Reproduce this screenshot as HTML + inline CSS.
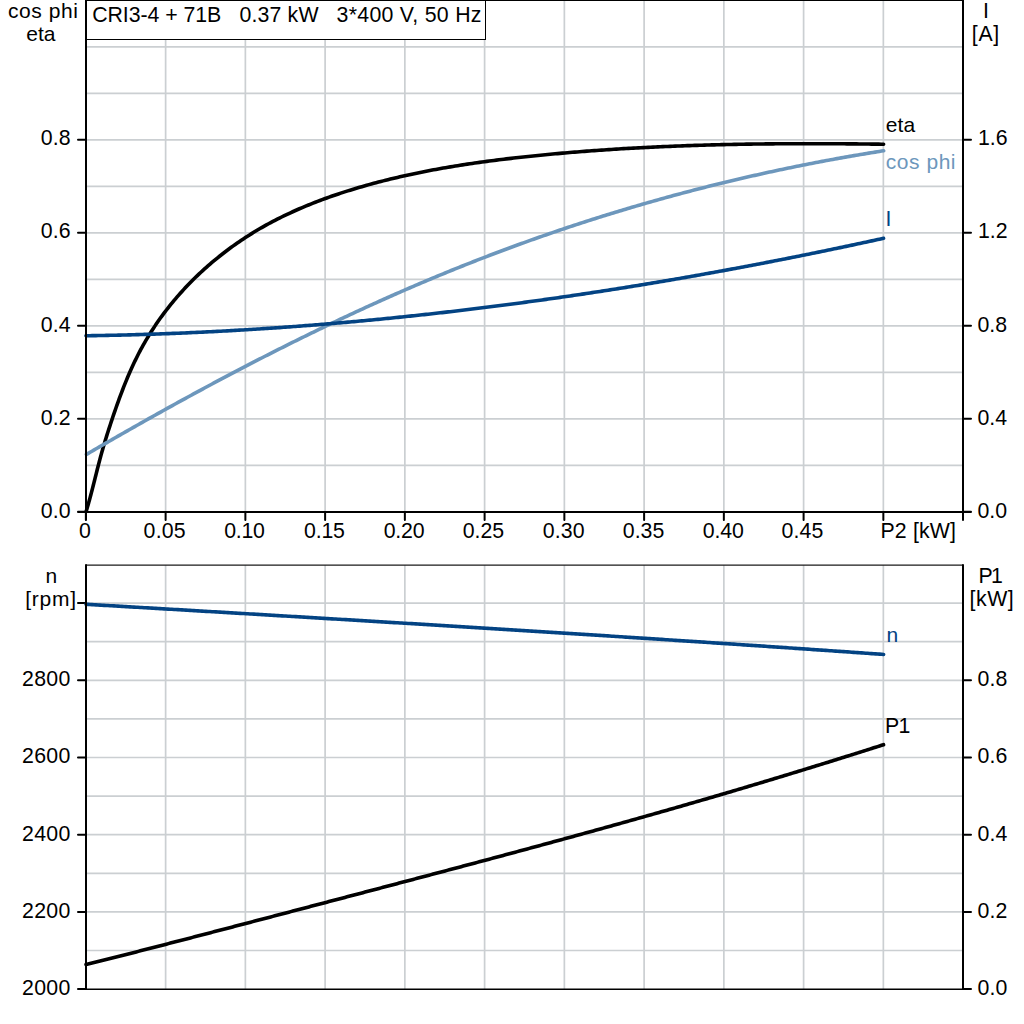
<!DOCTYPE html><html><head><meta charset="utf-8"><style>html,body{margin:0;padding:0;background:#fff;}svg{display:block}</style></head><body>
<svg width="1024" height="1024" viewBox="0 0 1024 1024" font-family="&quot;Liberation Sans&quot;, sans-serif" font-size="21.3">
<rect width="1024" height="1024" fill="#fff"/>
<path d="M165.62,39.5 V511.80 M245.37,39.5 V511.80 M325.11,39.5 V511.80 M404.86,39.5 V511.80 M484.61,39.5 V511.80 M564.36,0 V511.80 M644.11,0 V511.80 M723.85,0 V511.80 M803.60,0 V511.80 M883.35,0 V511.80 M86,465.30 H963 M86,418.80 H963 M86,372.30 H963 M86,325.80 H963 M86,279.30 H963 M86,232.80 H963 M86,186.30 H963 M86,139.80 H963 M86,93.30 H963 M86,46.80 H963 M165.62,565 V989.1 M245.37,565 V989.1 M325.11,565 V989.1 M404.86,565 V989.1 M484.61,565 V989.1 M564.36,565 V989.1 M644.11,565 V989.1 M723.85,565 V989.1 M803.60,565 V989.1 M883.35,565 V989.1 M86,950.50 H963 M86,911.90 H963 M86,873.30 H963 M86,834.70 H963 M86,796.10 H963 M86,757.50 H963 M86,718.90 H963 M86,680.30 H963 M86,641.70 H963 M86,603.10 H963" stroke="#cbcfd2" stroke-width="1.7" fill="none"/>
<path d="M86,0.5 H963" stroke="#000" stroke-width="1" fill="none"/>
<path d="M86,0 V520 M963,0 V520 M78,512 H971 M78,511.80 H86 M963,511.80 H971 M78,418.80 H86 M963,418.80 H971 M78,325.80 H86 M963,325.80 H971 M78,232.80 H86 M963,232.80 H971 M78,139.80 H86 M963,139.80 H971 M85.87,512 V520 M165.62,512 V520 M245.37,512 V520 M325.11,512 V520 M404.86,512 V520 M484.61,512 V520 M564.36,512 V520 M644.11,512 V520 M723.85,512 V520 M803.60,512 V520 M883.35,512 V520" stroke="#000" stroke-width="2" stroke-linecap="round" fill="none"/>
<path d="M86,565.05 H963" stroke="#1a1a1a" stroke-width="1.2" fill="none"/>
<path d="M86,565 V989.1 M963,565 V989.1 M78,989.10 H86 M963,989.10 H971 M78,911.90 H86 M963,911.90 H971 M78,834.70 H86 M963,834.70 H971 M78,757.50 H86 M963,757.50 H971 M78,680.30 H86 M963,680.30 H971 M78,603.10 H86" stroke="#000" stroke-width="2" stroke-linecap="round" fill="none"/>
<path d="M78.5,989.27 H970.5" stroke="#000" stroke-width="1.45" stroke-linecap="round" fill="none"/>
<rect x="85.5" y="0.5" width="400" height="39" fill="#fff" stroke="#000" stroke-width="1"/>
<path d="M86.12,511.55 L86.83,509.19 L87.52,506.83 L88.20,504.46 L88.87,502.09 L89.52,499.72 L90.16,497.35 L90.79,494.97 L91.42,492.60 L92.03,490.22 L92.64,487.84 L93.25,485.46 L93.85,483.08 L94.45,480.70 L95.04,478.33 L95.64,475.95 L96.24,473.57 L96.83,471.20 L97.44,468.82 L98.04,466.45 L98.65,464.08 L99.27,461.71 L99.89,459.35 L100.52,456.99 L101.17,454.63 L101.82,452.28 L102.49,449.93 L103.16,447.58 L103.85,445.24 L104.54,442.90 L105.25,440.56 L105.97,438.23 L106.69,435.90 L107.42,433.56 L108.16,431.24 L108.91,428.91 L109.67,426.58 L110.43,424.25 L111.20,421.93 L111.97,419.60 L112.75,417.28 L113.54,414.95 L114.33,412.63 L115.13,410.30 L115.94,407.98 L116.76,405.66 L117.58,403.34 L118.41,401.02 L119.26,398.71 L120.11,396.40 L120.97,394.09 L121.84,391.79 L122.72,389.49 L123.62,387.19 L124.52,384.90 L125.44,382.62 L126.37,380.34 L127.32,378.06 L128.27,375.80 L129.25,373.54 L130.23,371.28 L131.23,369.04 L132.25,366.80 L133.28,364.57 L134.32,362.34 L135.39,360.13 L136.47,357.93 L137.56,355.73 L138.68,353.55 L139.81,351.37 L140.96,349.21 L142.13,347.05 L143.32,344.91 L144.53,342.78 L145.75,340.66 L147.00,338.55 L148.26,336.45 L149.54,334.36 L150.84,332.29 L152.15,330.22 L153.49,328.17 L154.84,326.13 L156.20,324.10 L157.59,322.08 L158.99,320.08 L160.41,318.08 L161.85,316.10 L163.30,314.13 L164.77,312.17 L166.25,310.22 L167.75,308.29 L169.27,306.37 L170.80,304.46 L172.35,302.56 L173.91,300.67 L175.49,298.80 L177.09,296.94 L178.70,295.09 L180.32,293.26 L181.96,291.43 L183.61,289.63 L185.28,287.83 L186.96,286.05 L188.66,284.28 L190.37,282.52 L192.10,280.77 L193.83,279.04 L195.59,277.33 L197.35,275.62 L199.13,273.93 L200.92,272.25 L202.72,270.59 L204.54,268.94 L206.37,267.30 L208.21,265.68 L210.07,264.07 L211.94,262.48 L213.82,260.90 L215.71,259.33 L217.61,257.78 L219.52,256.24 L221.45,254.72 L223.39,253.21 L225.33,251.71 L227.29,250.23 L229.26,248.76 L231.25,247.31 L233.24,245.88 L235.24,244.45 L237.25,243.05 L239.27,241.65 L241.31,240.28 L243.35,238.91 L245.40,237.57 L247.46,236.23 L249.53,234.92 L251.62,233.61 L253.70,232.33 L255.80,231.06 L257.91,229.80 L260.03,228.56 L262.15,227.34 L264.28,226.13 L266.42,224.93 L268.57,223.75 L270.73,222.59 L272.90,221.44 L275.07,220.31 L277.25,219.19 L279.44,218.08 L281.63,216.99 L283.83,215.92 L286.04,214.85 L288.26,213.81 L290.48,212.77 L292.71,211.75 L294.94,210.74 L297.18,209.75 L299.43,208.76 L301.68,207.80 L303.94,206.84 L306.21,205.90 L308.48,204.97 L310.75,204.05 L313.03,203.14 L315.32,202.25 L317.61,201.36 L319.91,200.49 L322.21,199.63 L324.51,198.78 L326.82,197.95 L329.14,197.12 L331.45,196.31 L333.77,195.50 L336.10,194.71 L338.43,193.93 L340.76,193.16 L343.10,192.39 L345.44,191.64 L347.78,190.90 L350.12,190.17 L352.47,189.45 L354.82,188.73 L357.18,188.03 L359.53,187.33 L361.89,186.65 L364.25,185.97 L366.61,185.30 L368.98,184.64 L371.34,183.99 L373.71,183.35 L376.08,182.72 L378.45,182.09 L380.83,181.48 L383.20,180.87 L385.58,180.27 L387.96,179.68 L390.34,179.09 L392.72,178.52 L395.11,177.95 L397.49,177.39 L399.88,176.83 L402.27,176.29 L404.66,175.75 L407.06,175.22 L409.45,174.70 L411.85,174.18 L414.25,173.67 L416.65,173.17 L419.05,172.68 L421.45,172.19 L423.85,171.71 L426.26,171.24 L428.67,170.77 L431.07,170.31 L433.48,169.85 L435.90,169.41 L438.31,168.97 L440.72,168.53 L443.14,168.10 L445.55,167.68 L447.97,167.27 L450.39,166.86 L452.81,166.45 L455.23,166.06 L457.65,165.66 L460.07,165.28 L462.50,164.90 L464.92,164.52 L467.35,164.15 L469.77,163.79 L472.20,163.43 L474.63,163.07 L477.06,162.73 L479.49,162.38 L481.92,162.04 L484.35,161.71 L486.79,161.38 L489.22,161.06 L491.65,160.74 L494.09,160.42 L496.52,160.11 L498.96,159.81 L501.40,159.51 L503.83,159.21 L506.27,158.91 L508.71,158.63 L511.15,158.34 L513.59,158.06 L516.03,157.78 L518.47,157.51 L520.91,157.24 L523.35,156.98 L525.79,156.71 L528.24,156.45 L530.68,156.20 L533.12,155.95 L535.56,155.70 L538.01,155.45 L540.45,155.21 L542.89,154.97 L545.34,154.74 L547.78,154.50 L550.23,154.27 L552.67,154.04 L555.12,153.82 L557.56,153.60 L560.00,153.38 L562.45,153.16 L564.89,152.95 L567.34,152.74 L569.79,152.54 L572.23,152.33 L574.68,152.13 L577.12,151.93 L579.57,151.74 L582.02,151.54 L584.46,151.35 L586.91,151.17 L589.36,150.98 L591.80,150.80 L594.25,150.62 L596.70,150.44 L599.15,150.27 L601.59,150.10 L604.04,149.93 L606.49,149.76 L608.94,149.60 L611.38,149.44 L613.83,149.28 L616.28,149.13 L618.73,148.97 L621.18,148.82 L623.63,148.67 L626.08,148.53 L628.53,148.39 L630.97,148.25 L633.42,148.11 L635.87,147.97 L638.32,147.84 L640.77,147.71 L643.22,147.58 L645.67,147.46 L648.12,147.33 L650.57,147.21 L653.02,147.09 L655.47,146.98 L657.92,146.86 L660.38,146.75 L662.83,146.64 L665.28,146.53 L667.73,146.43 L670.18,146.33 L672.63,146.23 L675.08,146.13 L677.53,146.03 L679.98,145.94 L682.44,145.85 L684.89,145.76 L687.34,145.67 L689.79,145.58 L692.24,145.50 L694.69,145.42 L697.15,145.34 L699.60,145.26 L702.05,145.19 L704.50,145.11 L706.96,145.04 L709.41,144.98 L711.86,144.91 L714.31,144.84 L716.77,144.78 L719.22,144.72 L721.67,144.66 L724.12,144.60 L726.58,144.55 L729.03,144.49 L731.48,144.44 L733.94,144.39 L736.39,144.34 L738.84,144.30 L741.29,144.25 L743.75,144.21 L746.20,144.17 L748.65,144.13 L751.11,144.09 L753.56,144.06 L756.01,144.02 L758.47,143.99 L760.92,143.96 L763.38,143.93 L765.83,143.91 L768.28,143.88 L770.74,143.86 L773.19,143.83 L775.64,143.81 L778.10,143.79 L780.55,143.78 L783.00,143.76 L785.46,143.74 L787.91,143.73 L790.37,143.72 L792.82,143.71 L795.27,143.70 L797.73,143.69 L800.18,143.69 L802.64,143.68 L805.09,143.68 L807.54,143.68 L810.00,143.68 L812.45,143.68 L814.90,143.68 L817.36,143.69 L819.81,143.69 L822.27,143.70 L824.72,143.71 L827.17,143.71 L829.63,143.73 L832.08,143.74 L834.54,143.75 L836.99,143.76 L839.44,143.78 L841.90,143.79 L844.35,143.81 L846.80,143.83 L849.26,143.85 L851.71,143.87 L854.17,143.89 L856.62,143.92 L859.07,143.94 L861.53,143.96 L863.98,143.99 L866.43,144.02 L868.89,144.05 L871.34,144.08 L873.79,144.11 L876.25,144.14 L878.70,144.17 L881.15,144.20 L883.61,144.24" stroke="#000" stroke-width="3.6" fill="none" stroke-linecap="round" stroke-linejoin="round"/>
<path d="M86.39,454.43 L88.25,453.35 L90.10,452.27 L91.96,451.19 L93.82,450.11 L95.67,449.04 L97.53,447.96 L99.39,446.88 L101.25,445.81 L103.11,444.73 L104.97,443.66 L106.83,442.58 L108.69,441.51 L110.55,440.44 L112.42,439.37 L114.28,438.30 L116.15,437.23 L118.01,436.16 L119.88,435.09 L121.74,434.02 L123.61,432.96 L125.48,431.89 L127.34,430.83 L129.21,429.76 L131.08,428.70 L132.95,427.64 L134.82,426.58 L136.69,425.52 L138.56,424.46 L140.44,423.40 L142.31,422.35 L144.18,421.29 L146.06,420.23 L147.93,419.18 L149.81,418.13 L151.68,417.08 L153.56,416.02 L155.44,414.97 L157.32,413.92 L159.20,412.88 L161.08,411.83 L162.96,410.78 L164.84,409.74 L166.72,408.69 L168.60,407.65 L170.48,406.61 L172.37,405.57 L174.25,404.53 L176.13,403.49 L178.02,402.45 L179.91,401.42 L181.79,400.38 L183.68,399.35 L185.57,398.31 L187.46,397.28 L189.35,396.25 L191.24,395.22 L193.13,394.19 L195.02,393.16 L196.91,392.14 L198.80,391.11 L200.70,390.09 L202.59,389.07 L204.49,388.04 L206.38,387.02 L208.28,386.00 L210.17,384.99 L212.07,383.97 L213.97,382.95 L215.87,381.94 L217.77,380.93 L219.67,379.91 L221.57,378.90 L223.47,377.89 L225.37,376.89 L227.28,375.88 L229.18,374.87 L231.08,373.87 L232.99,372.87 L234.90,371.86 L236.80,370.86 L238.71,369.87 L240.62,368.87 L242.53,367.87 L244.44,366.88 L246.35,365.88 L248.26,364.89 L250.17,363.90 L252.08,362.91 L253.99,361.92 L255.91,360.93 L257.82,359.95 L259.74,358.97 L261.65,357.98 L263.57,357.00 L265.49,356.02 L267.41,355.04 L269.32,354.07 L271.24,353.09 L273.16,352.12 L275.09,351.14 L277.01,350.17 L278.93,349.20 L280.85,348.24 L282.78,347.27 L284.70,346.30 L286.63,345.34 L288.55,344.38 L290.48,343.42 L292.41,342.46 L294.34,341.50 L296.27,340.55 L298.20,339.59 L300.13,338.64 L302.06,337.69 L303.99,336.74 L305.92,335.79 L307.86,334.84 L309.79,333.90 L311.73,332.95 L313.66,332.01 L315.60,331.07 L317.54,330.13 L319.48,329.20 L321.41,328.26 L323.35,327.33 L325.29,326.40 L327.24,325.47 L329.18,324.54 L331.12,323.61 L333.06,322.69 L335.01,321.76 L336.95,320.84 L338.90,319.92 L340.85,319.00 L342.79,318.09 L344.74,317.17 L346.69,316.26 L348.64,315.35 L350.59,314.44 L352.54,313.53 L354.50,312.62 L356.45,311.72 L358.40,310.81 L360.36,309.91 L362.31,309.01 L364.27,308.12 L366.23,307.22 L368.19,306.33 L370.14,305.44 L372.10,304.55 L374.06,303.66 L376.02,302.77 L377.99,301.89 L379.95,301.00 L381.91,300.12 L383.88,299.25 L385.84,298.37 L387.81,297.49 L389.78,296.62 L391.74,295.75 L393.71,294.88 L395.68,294.01 L397.65,293.15 L399.62,292.28 L401.59,291.42 L403.57,290.56 L405.54,289.70 L407.51,288.85 L409.49,287.99 L411.46,287.14 L413.44,286.29 L415.42,285.45 L417.40,284.60 L419.38,283.76 L421.36,282.91 L423.34,282.07 L425.32,281.24 L427.30,280.40 L429.28,279.57 L431.27,278.74 L433.25,277.91 L435.24,277.08 L437.23,276.25 L439.21,275.43 L441.20,274.61 L443.19,273.79 L445.18,272.97 L447.17,272.16 L449.16,271.35 L451.16,270.53 L453.15,269.73 L455.15,268.92 L457.14,268.12 L459.14,267.31 L461.13,266.51 L463.13,265.72 L465.13,264.92 L467.13,264.13 L469.13,263.34 L471.13,262.55 L473.13,261.76 L475.14,260.98 L477.14,260.19 L479.15,259.41 L481.15,258.64 L483.16,257.86 L485.17,257.09 L487.17,256.32 L489.18,255.55 L491.19,254.78 L493.20,254.02 L495.22,253.25 L497.23,252.49 L499.24,251.74 L501.26,250.98 L503.27,250.23 L505.29,249.48 L507.31,248.73 L509.32,247.98 L511.34,247.24 L513.36,246.50 L515.38,245.76 L517.40,245.02 L519.43,244.28 L521.45,243.55 L523.47,242.82 L525.50,242.09 L527.52,241.37 L529.55,240.64 L531.57,239.92 L533.60,239.20 L535.63,238.48 L537.66,237.77 L539.69,237.06 L541.72,236.35 L543.75,235.64 L545.79,234.93 L547.82,234.23 L549.85,233.53 L551.89,232.83 L553.92,232.13 L555.96,231.44 L558.00,230.75 L560.04,230.06 L562.07,229.37 L564.11,228.68 L566.15,228.00 L568.20,227.32 L570.24,226.64 L572.28,225.96 L574.32,225.29 L576.37,224.62 L578.41,223.95 L580.46,223.28 L582.50,222.62 L584.55,221.95 L586.60,221.29 L588.65,220.63 L590.70,219.98 L592.75,219.32 L594.80,218.67 L596.85,218.02 L598.90,217.38 L600.96,216.73 L603.01,216.09 L605.06,215.45 L607.12,214.81 L609.18,214.18 L611.23,213.54 L613.29,212.91 L615.35,212.28 L617.41,211.66 L619.47,211.03 L621.53,210.41 L623.59,209.79 L625.65,209.17 L627.71,208.56 L629.77,207.95 L631.84,207.34 L633.90,206.73 L635.97,206.12 L638.03,205.52 L640.10,204.92 L642.16,204.32 L644.23,203.72 L646.30,203.13 L648.37,202.53 L650.44,201.94 L652.51,201.36 L654.58,200.77 L656.65,200.19 L658.72,199.61 L660.80,199.03 L662.87,198.45 L664.95,197.88 L667.02,197.31 L669.10,196.74 L671.17,196.17 L673.25,195.60 L675.33,195.04 L677.40,194.48 L679.48,193.92 L681.56,193.37 L683.64,192.82 L685.72,192.26 L687.80,191.72 L689.89,191.17 L691.97,190.62 L694.05,190.08 L696.13,189.54 L698.22,189.01 L700.30,188.47 L702.39,187.94 L704.48,187.41 L706.56,186.88 L708.65,186.35 L710.74,185.83 L712.82,185.31 L714.91,184.79 L717.00,184.27 L719.09,183.76 L721.18,183.25 L723.28,182.74 L725.37,182.23 L727.46,181.72 L729.55,181.22 L731.65,180.72 L733.74,180.22 L735.83,179.73 L737.93,179.23 L740.02,178.74 L742.12,178.25 L744.22,177.77 L746.32,177.28 L748.41,176.80 L750.51,176.32 L752.61,175.84 L754.71,175.37 L756.81,174.89 L758.91,174.42 L761.01,173.95 L763.11,173.49 L765.21,173.02 L767.32,172.56 L769.42,172.10 L771.52,171.65 L773.63,171.19 L775.73,170.74 L777.84,170.29 L779.94,169.84 L782.05,169.40 L784.16,168.96 L786.26,168.52 L788.37,168.08 L790.48,167.64 L792.59,167.21 L794.70,166.78 L796.81,166.35 L798.92,165.92 L801.03,165.50 L803.14,165.07 L805.25,164.65 L807.36,164.24 L809.47,163.82 L811.59,163.41 L813.70,163.00 L815.81,162.59 L817.93,162.19 L820.04,161.78 L822.16,161.38 L824.27,160.98 L826.39,160.59 L828.50,160.19 L830.62,159.80 L832.74,159.41 L834.86,159.02 L836.97,158.64 L839.09,158.26 L841.21,157.87 L843.33,157.50 L845.45,157.12 L847.57,156.75 L849.69,156.38 L851.81,156.01 L853.93,155.64 L856.06,155.28 L858.18,154.92 L860.30,154.56 L862.42,154.20 L864.55,153.85 L866.67,153.49 L868.80,153.14 L870.92,152.80 L873.04,152.45 L875.17,152.11 L877.30,151.77 L879.42,151.43 L881.55,151.09 L883.68,150.76" stroke="#6d97bc" stroke-width="3.6" fill="none" stroke-linecap="round" stroke-linejoin="round"/>
<path d="M85.97,335.74 L87.99,335.71 L90.01,335.68 L92.03,335.65 L94.04,335.62 L96.06,335.58 L98.08,335.55 L100.10,335.51 L102.12,335.48 L104.14,335.44 L106.15,335.40 L108.17,335.36 L110.19,335.32 L112.21,335.27 L114.23,335.23 L116.25,335.18 L118.26,335.14 L120.28,335.09 L122.30,335.04 L124.32,334.99 L126.33,334.94 L128.35,334.89 L130.37,334.83 L132.39,334.78 L134.40,334.72 L136.42,334.66 L138.44,334.60 L140.46,334.54 L142.47,334.48 L144.49,334.42 L146.51,334.36 L148.52,334.29 L150.54,334.23 L152.56,334.16 L154.58,334.09 L156.59,334.02 L158.61,333.95 L160.63,333.88 L162.64,333.81 L164.66,333.73 L166.68,333.66 L168.69,333.58 L170.71,333.50 L172.72,333.42 L174.74,333.34 L176.76,333.26 L178.77,333.18 L180.79,333.10 L182.81,333.01 L184.82,332.93 L186.84,332.84 L188.85,332.75 L190.87,332.66 L192.88,332.57 L194.90,332.48 L196.92,332.39 L198.93,332.29 L200.95,332.20 L202.96,332.10 L204.98,332.00 L206.99,331.90 L209.01,331.80 L211.02,331.70 L213.04,331.60 L215.05,331.50 L217.07,331.39 L219.08,331.29 L221.10,331.18 L223.11,331.07 L225.12,330.96 L227.14,330.85 L229.15,330.74 L231.17,330.63 L233.18,330.51 L235.20,330.40 L237.21,330.28 L239.22,330.17 L241.24,330.05 L243.25,329.93 L245.26,329.81 L247.28,329.68 L249.29,329.56 L251.31,329.44 L253.32,329.31 L255.33,329.19 L257.35,329.06 L259.36,328.93 L261.37,328.80 L263.38,328.67 L265.40,328.54 L267.41,328.40 L269.42,328.27 L271.44,328.13 L273.45,328.00 L275.46,327.86 L277.47,327.72 L279.49,327.58 L281.50,327.44 L283.51,327.30 L285.52,327.15 L287.53,327.01 L289.55,326.86 L291.56,326.72 L293.57,326.57 L295.58,326.42 L297.59,326.27 L299.60,326.12 L301.61,325.97 L303.63,325.81 L305.64,325.66 L307.65,325.50 L309.66,325.35 L311.67,325.19 L313.68,325.03 L315.69,324.87 L317.70,324.71 L319.71,324.55 L321.72,324.38 L323.73,324.22 L325.74,324.05 L327.75,323.89 L329.76,323.72 L331.77,323.55 L333.78,323.38 L335.79,323.21 L337.80,323.04 L339.81,322.86 L341.82,322.69 L343.83,322.51 L345.84,322.34 L347.85,322.16 L349.86,321.98 L351.87,321.80 L353.88,321.62 L355.89,321.44 L357.90,321.25 L359.90,321.07 L361.91,320.88 L363.92,320.70 L365.93,320.51 L367.94,320.32 L369.95,320.13 L371.95,319.94 L373.96,319.75 L375.97,319.56 L377.98,319.36 L379.98,319.17 L381.99,318.97 L384.00,318.78 L386.01,318.58 L388.01,318.38 L390.02,318.18 L392.03,317.98 L394.03,317.77 L396.04,317.57 L398.05,317.37 L400.05,317.16 L402.06,316.95 L404.07,316.75 L406.07,316.54 L408.08,316.33 L410.09,316.12 L412.09,315.91 L414.10,315.69 L416.10,315.48 L418.11,315.26 L420.11,315.05 L422.12,314.83 L424.12,314.61 L426.13,314.39 L428.13,314.17 L430.14,313.95 L432.14,313.73 L434.15,313.51 L436.15,313.28 L438.16,313.06 L440.16,312.83 L442.17,312.60 L444.17,312.37 L446.17,312.14 L448.18,311.91 L450.18,311.68 L452.19,311.45 L454.19,311.21 L456.19,310.98 L458.20,310.74 L460.20,310.51 L462.20,310.27 L464.20,310.03 L466.21,309.79 L468.21,309.55 L470.21,309.31 L472.21,309.06 L474.22,308.82 L476.22,308.57 L478.22,308.33 L480.22,308.08 L482.23,307.83 L484.23,307.58 L486.23,307.33 L488.23,307.08 L490.23,306.83 L492.23,306.58 L494.23,306.32 L496.23,306.07 L498.24,305.81 L500.24,305.55 L502.24,305.29 L504.24,305.03 L506.24,304.77 L508.24,304.51 L510.24,304.25 L512.24,303.99 L514.24,303.72 L516.24,303.46 L518.24,303.19 L520.24,302.92 L522.24,302.66 L524.23,302.39 L526.23,302.12 L528.23,301.84 L530.23,301.57 L532.23,301.30 L534.23,301.02 L536.23,300.75 L538.22,300.47 L540.22,300.20 L542.22,299.92 L544.22,299.64 L546.22,299.36 L548.21,299.08 L550.21,298.79 L552.21,298.51 L554.21,298.23 L556.20,297.94 L558.20,297.66 L560.20,297.37 L562.19,297.08 L564.19,296.79 L566.19,296.50 L568.18,296.21 L570.18,295.92 L572.17,295.63 L574.17,295.33 L576.17,295.04 L578.16,294.74 L580.16,294.44 L582.15,294.15 L584.15,293.85 L586.14,293.55 L588.14,293.25 L590.13,292.95 L592.13,292.64 L594.12,292.34 L596.11,292.04 L598.11,291.73 L600.10,291.42 L602.10,291.12 L604.09,290.81 L606.08,290.50 L608.08,290.19 L610.07,289.88 L612.06,289.57 L614.06,289.25 L616.05,288.94 L618.04,288.62 L620.03,288.31 L622.03,287.99 L624.02,287.67 L626.01,287.35 L628.00,287.03 L629.99,286.71 L631.99,286.39 L633.98,286.07 L635.97,285.75 L637.96,285.42 L639.95,285.10 L641.94,284.77 L643.93,284.44 L645.92,284.12 L647.91,283.79 L649.90,283.46 L651.89,283.13 L653.88,282.79 L655.87,282.46 L657.86,282.13 L659.85,281.79 L661.84,281.46 L663.83,281.12 L665.82,280.78 L667.81,280.45 L669.80,280.11 L671.78,279.77 L673.77,279.43 L675.76,279.08 L677.75,278.74 L679.74,278.40 L681.72,278.05 L683.71,277.71 L685.70,277.36 L687.69,277.01 L689.67,276.66 L691.66,276.32 L693.65,275.97 L695.63,275.61 L697.62,275.26 L699.61,274.91 L701.59,274.56 L703.58,274.20 L705.56,273.85 L707.55,273.49 L709.54,273.13 L711.52,272.77 L713.51,272.41 L715.49,272.05 L717.48,271.69 L719.46,271.33 L721.44,270.97 L723.43,270.61 L725.41,270.24 L727.40,269.88 L729.38,269.51 L731.36,269.14 L733.35,268.77 L735.33,268.41 L737.31,268.04 L739.30,267.67 L741.28,267.29 L743.26,266.92 L745.24,266.55 L747.23,266.17 L749.21,265.80 L751.19,265.42 L753.17,265.05 L755.15,264.67 L757.14,264.29 L759.12,263.91 L761.10,263.53 L763.08,263.15 L765.06,262.77 L767.04,262.38 L769.02,262.00 L771.00,261.62 L772.98,261.23 L774.96,260.84 L776.94,260.46 L778.92,260.07 L780.90,259.68 L782.88,259.29 L784.86,258.90 L786.83,258.51 L788.81,258.12 L790.79,257.72 L792.77,257.33 L794.75,256.93 L796.73,256.54 L798.70,256.14 L800.68,255.74 L802.66,255.35 L804.63,254.95 L806.61,254.55 L808.59,254.15 L810.56,253.74 L812.54,253.34 L814.52,252.94 L816.49,252.53 L818.47,252.13 L820.44,251.72 L822.42,251.32 L824.40,250.91 L826.37,250.50 L828.34,250.09 L830.32,249.68 L832.29,249.27 L834.27,248.86 L836.24,248.45 L838.22,248.03 L840.19,247.62 L842.16,247.20 L844.14,246.79 L846.11,246.37 L848.08,245.95 L850.06,245.54 L852.03,245.12 L854.00,244.70 L855.97,244.28 L857.94,243.85 L859.92,243.43 L861.89,243.01 L863.86,242.58 L865.83,242.16 L867.80,241.73 L869.77,241.31 L871.74,240.88 L873.71,240.45 L875.68,240.02 L877.65,239.59 L879.62,239.16 L881.59,238.73 L883.56,238.30" stroke="#034383" stroke-width="3.6" fill="none" stroke-linecap="round" stroke-linejoin="round"/>
<path d="M86.00,604.28 L88.00,604.40 L90.00,604.51 L92.00,604.63 L94.00,604.75 L96.00,604.86 L98.00,604.98 L100.00,605.10 L101.99,605.21 L103.99,605.33 L105.99,605.45 L107.99,605.57 L109.99,605.68 L111.99,605.80 L113.99,605.92 L115.99,606.03 L117.99,606.15 L119.99,606.27 L121.99,606.39 L123.99,606.50 L125.99,606.62 L127.99,606.74 L129.99,606.85 L131.99,606.97 L133.99,607.09 L135.99,607.21 L137.99,607.32 L139.99,607.44 L141.99,607.56 L143.99,607.68 L145.98,607.79 L147.98,607.91 L149.98,608.03 L151.98,608.15 L153.98,608.26 L155.98,608.38 L157.98,608.50 L159.98,608.62 L161.98,608.73 L163.98,608.85 L165.98,608.97 L167.98,609.09 L169.98,609.20 L171.98,609.32 L173.98,609.44 L175.98,609.56 L177.98,609.67 L179.98,609.79 L181.98,609.91 L183.98,610.03 L185.97,610.15 L187.97,610.26 L189.97,610.38 L191.97,610.50 L193.97,610.62 L195.97,610.74 L197.97,610.85 L199.97,610.97 L201.97,611.09 L203.97,611.21 L205.97,611.33 L207.97,611.44 L209.97,611.56 L211.97,611.68 L213.97,611.80 L215.97,611.92 L217.97,612.03 L219.97,612.15 L221.97,612.27 L223.96,612.39 L225.96,612.51 L227.96,612.63 L229.96,612.74 L231.96,612.86 L233.96,612.98 L235.96,613.10 L237.96,613.22 L239.96,613.34 L241.96,613.46 L243.96,613.57 L245.96,613.69 L247.96,613.81 L249.96,613.93 L251.96,614.05 L253.96,614.17 L255.96,614.29 L257.96,614.41 L259.95,614.52 L261.95,614.64 L263.95,614.76 L265.95,614.88 L267.95,615.00 L269.95,615.12 L271.95,615.24 L273.95,615.36 L275.95,615.48 L277.95,615.60 L279.95,615.72 L281.95,615.83 L283.95,615.95 L285.95,616.07 L287.95,616.19 L289.95,616.31 L291.95,616.43 L293.94,616.55 L295.94,616.67 L297.94,616.79 L299.94,616.91 L301.94,617.03 L303.94,617.15 L305.94,617.27 L307.94,617.39 L309.94,617.51 L311.94,617.63 L313.94,617.75 L315.94,617.87 L317.94,617.99 L319.94,618.11 L321.94,618.23 L323.94,618.35 L325.93,618.47 L327.93,618.59 L329.93,618.71 L331.93,618.83 L333.93,618.95 L335.93,619.07 L337.93,619.19 L339.93,619.31 L341.93,619.43 L343.93,619.55 L345.93,619.67 L347.93,619.79 L349.93,619.91 L351.93,620.03 L353.93,620.15 L355.92,620.27 L357.92,620.39 L359.92,620.52 L361.92,620.64 L363.92,620.76 L365.92,620.88 L367.92,621.00 L369.92,621.12 L371.92,621.24 L373.92,621.36 L375.92,621.48 L377.92,621.61 L379.92,621.73 L381.92,621.85 L383.91,621.97 L385.91,622.09 L387.91,622.21 L389.91,622.33 L391.91,622.46 L393.91,622.58 L395.91,622.70 L397.91,622.82 L399.91,622.94 L401.91,623.06 L403.91,623.19 L405.91,623.31 L407.91,623.43 L409.90,623.55 L411.90,623.67 L413.90,623.80 L415.90,623.92 L417.90,624.04 L419.90,624.16 L421.90,624.28 L423.90,624.41 L425.90,624.53 L427.90,624.65 L429.90,624.77 L431.90,624.90 L433.90,625.02 L435.89,625.14 L437.89,625.27 L439.89,625.39 L441.89,625.51 L443.89,625.63 L445.89,625.76 L447.89,625.88 L449.89,626.00 L451.89,626.13 L453.89,626.25 L455.89,626.37 L457.89,626.50 L459.88,626.62 L461.88,626.74 L463.88,626.87 L465.88,626.99 L467.88,627.11 L469.88,627.24 L471.88,627.36 L473.88,627.48 L475.88,627.61 L477.88,627.73 L479.88,627.86 L481.87,627.98 L483.87,628.10 L485.87,628.23 L487.87,628.35 L489.87,628.48 L491.87,628.60 L493.87,628.73 L495.87,628.85 L497.87,628.97 L499.87,629.10 L501.87,629.22 L503.86,629.35 L505.86,629.47 L507.86,629.60 L509.86,629.72 L511.86,629.85 L513.86,629.97 L515.86,630.10 L517.86,630.22 L519.86,630.35 L521.86,630.47 L523.85,630.60 L525.85,630.72 L527.85,630.85 L529.85,630.97 L531.85,631.10 L533.85,631.23 L535.85,631.35 L537.85,631.48 L539.85,631.60 L541.85,631.73 L543.84,631.86 L545.84,631.98 L547.84,632.11 L549.84,632.23 L551.84,632.36 L553.84,632.49 L555.84,632.61 L557.84,632.74 L559.84,632.87 L561.84,632.99 L563.83,633.12 L565.83,633.25 L567.83,633.37 L569.83,633.50 L571.83,633.63 L573.83,633.75 L575.83,633.88 L577.83,634.01 L579.83,634.13 L581.82,634.26 L583.82,634.39 L585.82,634.52 L587.82,634.64 L589.82,634.77 L591.82,634.90 L593.82,635.03 L595.82,635.15 L597.82,635.28 L599.81,635.41 L601.81,635.54 L603.81,635.67 L605.81,635.79 L607.81,635.92 L609.81,636.05 L611.81,636.18 L613.81,636.31 L615.81,636.44 L617.80,636.57 L619.80,636.69 L621.80,636.82 L623.80,636.95 L625.80,637.08 L627.80,637.21 L629.80,637.34 L631.80,637.47 L633.79,637.60 L635.79,637.73 L637.79,637.86 L639.79,637.99 L641.79,638.11 L643.79,638.24 L645.79,638.37 L647.79,638.50 L649.78,638.63 L651.78,638.76 L653.78,638.89 L655.78,639.02 L657.78,639.15 L659.78,639.28 L661.78,639.41 L663.78,639.55 L665.77,639.68 L667.77,639.81 L669.77,639.94 L671.77,640.07 L673.77,640.20 L675.77,640.33 L677.77,640.46 L679.76,640.59 L681.76,640.72 L683.76,640.85 L685.76,640.99 L687.76,641.12 L689.76,641.25 L691.76,641.38 L693.76,641.51 L695.75,641.64 L697.75,641.77 L699.75,641.91 L701.75,642.04 L703.75,642.17 L705.75,642.30 L707.75,642.44 L709.74,642.57 L711.74,642.70 L713.74,642.83 L715.74,642.97 L717.74,643.10 L719.74,643.23 L721.74,643.36 L723.73,643.50 L725.73,643.63 L727.73,643.76 L729.73,643.90 L731.73,644.03 L733.73,644.16 L735.73,644.30 L737.72,644.43 L739.72,644.56 L741.72,644.70 L743.72,644.83 L745.72,644.97 L747.72,645.10 L749.71,645.23 L751.71,645.37 L753.71,645.50 L755.71,645.64 L757.71,645.77 L759.71,645.91 L761.71,646.04 L763.70,646.17 L765.70,646.31 L767.70,646.44 L769.70,646.58 L771.70,646.72 L773.70,646.85 L775.69,646.99 L777.69,647.12 L779.69,647.26 L781.69,647.39 L783.69,647.53 L785.69,647.66 L787.68,647.80 L789.68,647.94 L791.68,648.07 L793.68,648.21 L795.68,648.34 L797.68,648.48 L799.67,648.62 L801.67,648.75 L803.67,648.89 L805.67,649.03 L807.67,649.16 L809.67,649.30 L811.66,649.44 L813.66,649.58 L815.66,649.71 L817.66,649.85 L819.66,649.99 L821.66,650.13 L823.65,650.26 L825.65,650.40 L827.65,650.54 L829.65,650.68 L831.65,650.82 L833.64,650.95 L835.64,651.09 L837.64,651.23 L839.64,651.37 L841.64,651.51 L843.64,651.65 L845.63,651.78 L847.63,651.92 L849.63,652.06 L851.63,652.20 L853.63,652.34 L855.62,652.48 L857.62,652.62 L859.62,652.76 L861.62,652.90 L863.62,653.04 L865.62,653.18 L867.61,653.32 L869.61,653.46 L871.61,653.60 L873.61,653.74 L875.61,653.88 L877.60,654.02 L879.60,654.16 L881.60,654.30 L883.60,654.44" stroke="#034383" stroke-width="3.6" fill="none" stroke-linecap="round" stroke-linejoin="round"/>
<path d="M86.02,964.59 L88.03,964.09 L90.05,963.58 L92.06,963.08 L94.07,962.58 L96.08,962.07 L98.09,961.57 L100.11,961.06 L102.12,960.56 L104.13,960.05 L106.14,959.55 L108.15,959.04 L110.16,958.53 L112.17,958.02 L114.18,957.51 L116.19,957.01 L118.20,956.50 L120.21,955.99 L122.22,955.48 L124.23,954.96 L126.24,954.45 L128.25,953.94 L130.26,953.43 L132.27,952.92 L134.28,952.40 L136.29,951.89 L138.30,951.37 L140.31,950.86 L142.31,950.35 L144.32,949.83 L146.33,949.32 L148.34,948.80 L150.35,948.28 L152.36,947.77 L154.37,947.25 L156.37,946.73 L158.38,946.21 L160.39,945.70 L162.40,945.18 L164.40,944.66 L166.41,944.14 L168.42,943.62 L170.43,943.10 L172.44,942.58 L174.44,942.06 L176.45,941.54 L178.46,941.02 L180.46,940.50 L182.47,939.98 L184.48,939.46 L186.49,938.94 L188.49,938.41 L190.50,937.89 L192.51,937.37 L194.51,936.85 L196.52,936.32 L198.53,935.80 L200.53,935.28 L202.54,934.75 L204.55,934.23 L206.55,933.71 L208.56,933.18 L210.57,932.66 L212.57,932.13 L214.58,931.61 L216.58,931.09 L218.59,930.56 L220.60,930.04 L222.60,929.51 L224.61,928.99 L226.62,928.46 L228.62,927.94 L230.63,927.41 L232.63,926.89 L234.64,926.36 L236.65,925.83 L238.65,925.31 L240.66,924.78 L242.66,924.26 L244.67,923.73 L246.68,923.21 L248.68,922.68 L250.69,922.15 L252.69,921.63 L254.70,921.10 L256.70,920.58 L258.71,920.05 L260.72,919.53 L262.72,919.00 L264.73,918.47 L266.73,917.95 L268.74,917.42 L270.75,916.89 L272.75,916.37 L274.76,915.84 L276.76,915.32 L278.77,914.79 L280.77,914.26 L282.78,913.74 L284.79,913.21 L286.79,912.68 L288.80,912.16 L290.80,911.63 L292.81,911.10 L294.81,910.58 L296.82,910.05 L298.83,909.52 L300.83,909.00 L302.84,908.47 L304.84,907.94 L306.85,907.41 L308.85,906.89 L310.86,906.36 L312.86,905.83 L314.87,905.31 L316.88,904.78 L318.88,904.25 L320.89,903.72 L322.89,903.20 L324.90,902.67 L326.90,902.14 L328.91,901.61 L330.91,901.09 L332.92,900.56 L334.92,900.03 L336.93,899.50 L338.94,898.98 L340.94,898.45 L342.95,897.92 L344.95,897.39 L346.96,896.86 L348.96,896.34 L350.97,895.81 L352.97,895.28 L354.98,894.75 L356.98,894.22 L358.99,893.69 L360.99,893.16 L363.00,892.64 L365.00,892.11 L367.01,891.58 L369.01,891.05 L371.02,890.52 L373.02,889.99 L375.03,889.46 L377.03,888.93 L379.04,888.41 L381.04,887.88 L383.05,887.35 L385.05,886.82 L387.06,886.29 L389.06,885.76 L391.07,885.23 L393.07,884.70 L395.08,884.17 L397.08,883.64 L399.09,883.11 L401.09,882.58 L403.10,882.05 L405.10,881.52 L407.11,880.99 L409.11,880.46 L411.12,879.93 L413.12,879.40 L415.13,878.87 L417.13,878.34 L419.13,877.81 L421.14,877.28 L423.14,876.75 L425.15,876.22 L427.15,875.69 L429.16,875.16 L431.16,874.62 L433.17,874.09 L435.17,873.56 L437.18,873.03 L439.18,872.50 L441.18,871.97 L443.19,871.43 L445.19,870.90 L447.20,870.37 L449.20,869.84 L451.20,869.31 L453.21,868.77 L455.21,868.24 L457.22,867.71 L459.22,867.17 L461.22,866.64 L463.23,866.11 L465.23,865.57 L467.24,865.04 L469.24,864.51 L471.24,863.97 L473.25,863.44 L475.25,862.90 L477.25,862.37 L479.26,861.83 L481.26,861.30 L483.26,860.76 L485.27,860.23 L487.27,859.69 L489.27,859.15 L491.28,858.62 L493.28,858.08 L495.28,857.54 L497.29,857.01 L499.29,856.47 L501.29,855.93 L503.29,855.39 L505.30,854.86 L507.30,854.32 L509.30,853.78 L511.30,853.24 L513.31,852.70 L515.31,852.16 L517.31,851.62 L519.31,851.08 L521.32,850.54 L523.32,850.00 L525.32,849.46 L527.32,848.92 L529.32,848.38 L531.32,847.84 L533.33,847.30 L535.33,846.75 L537.33,846.21 L539.33,845.67 L541.33,845.13 L543.33,844.58 L545.33,844.04 L547.34,843.50 L549.34,842.95 L551.34,842.41 L553.34,841.86 L555.34,841.32 L557.34,840.77 L559.34,840.22 L561.34,839.68 L563.34,839.13 L565.34,838.58 L567.34,838.04 L569.34,837.49 L571.34,836.94 L573.34,836.39 L575.34,835.84 L577.34,835.29 L579.34,834.75 L581.34,834.20 L583.34,833.64 L585.34,833.09 L587.34,832.54 L589.34,831.99 L591.33,831.44 L593.33,830.89 L595.33,830.33 L597.33,829.78 L599.33,829.23 L601.33,828.67 L603.33,828.12 L605.32,827.57 L607.32,827.01 L609.32,826.45 L611.32,825.90 L613.32,825.34 L615.31,824.79 L617.31,824.23 L619.31,823.67 L621.30,823.11 L623.30,822.55 L625.30,822.00 L627.30,821.44 L629.29,820.88 L631.29,820.32 L633.28,819.75 L635.28,819.19 L637.28,818.63 L639.27,818.07 L641.27,817.51 L643.26,816.94 L645.26,816.38 L647.26,815.82 L649.25,815.25 L651.25,814.69 L653.24,814.12 L655.24,813.55 L657.23,812.99 L659.23,812.42 L661.22,811.85 L663.21,811.29 L665.21,810.72 L667.20,810.15 L669.20,809.58 L671.19,809.01 L673.18,808.44 L675.18,807.87 L677.17,807.30 L679.16,806.72 L681.16,806.15 L683.15,805.58 L685.14,805.00 L687.13,804.43 L689.13,803.85 L691.12,803.28 L693.11,802.70 L695.10,802.13 L697.09,801.55 L699.09,800.97 L701.08,800.39 L703.07,799.81 L705.06,799.23 L707.05,798.65 L709.04,798.07 L711.03,797.49 L713.02,796.91 L715.01,796.33 L717.00,795.75 L718.99,795.16 L720.98,794.58 L722.97,793.99 L724.96,793.41 L726.95,792.82 L728.94,792.24 L730.93,791.65 L732.92,791.06 L734.90,790.47 L736.89,789.88 L738.88,789.29 L740.87,788.70 L742.86,788.11 L744.84,787.52 L746.83,786.93 L748.82,786.34 L750.80,785.75 L752.79,785.15 L754.78,784.56 L756.76,783.96 L758.75,783.37 L760.74,782.77 L762.72,782.17 L764.71,781.58 L766.69,780.98 L768.68,780.38 L770.67,779.78 L772.65,779.18 L774.64,778.58 L776.62,777.98 L778.60,777.38 L780.59,776.78 L782.57,776.18 L784.56,775.57 L786.54,774.97 L788.52,774.36 L790.51,773.76 L792.49,773.15 L794.47,772.55 L796.46,771.94 L798.44,771.33 L800.42,770.73 L802.41,770.12 L804.39,769.51 L806.37,768.90 L808.35,768.29 L810.33,767.68 L812.32,767.07 L814.30,766.46 L816.28,765.84 L818.26,765.23 L820.24,764.62 L822.22,764.00 L824.20,763.39 L826.18,762.77 L828.16,762.16 L830.14,761.54 L832.12,760.93 L834.10,760.31 L836.08,759.69 L838.06,759.07 L840.04,758.45 L842.02,757.83 L844.00,757.21 L845.98,756.59 L847.95,755.97 L849.93,755.35 L851.91,754.73 L853.89,754.10 L855.87,753.48 L857.84,752.86 L859.82,752.23 L861.80,751.61 L863.78,750.98 L865.75,750.35 L867.73,749.73 L869.71,749.10 L871.68,748.47 L873.66,747.84 L875.64,747.22 L877.61,746.59 L879.59,745.96 L881.56,745.32 L883.54,744.69" stroke="#000" stroke-width="3.6" fill="none" stroke-linecap="round" stroke-linejoin="round"/>
<path d="M86,0 V520 M86,565 V989.1" stroke="#000" stroke-width="2" fill="none"/>
<text x="7.90" y="18.00" style="letter-spacing:0.583px;font-size:21px" xml:space="preserve">cos phi</text>
<text x="26.20" y="41.00" style="letter-spacing:0.050px;font-size:21px" xml:space="preserve">eta</text>
<text x="92.20" y="21.60" style="letter-spacing:-0.045px" xml:space="preserve">CRI3-4 + 71B</text>
<text x="239.50" y="21.60" style="letter-spacing:0.150px" xml:space="preserve">0.37 kW</text>
<text x="336.60" y="21.60" style="letter-spacing:0.277px" xml:space="preserve">3*400 V, 50 Hz</text>
<text x="983.00" y="17.80" xml:space="preserve">I</text>
<text x="971.75" y="41.00" style="letter-spacing:0.725px" xml:space="preserve">[A]</text>
<text x="40.80" y="518.00" style="letter-spacing:0.100px" xml:space="preserve">0.0</text>
<text x="40.80" y="425.00" style="letter-spacing:0.100px" xml:space="preserve">0.2</text>
<text x="40.80" y="332.00" style="letter-spacing:0.100px" xml:space="preserve">0.4</text>
<text x="40.80" y="238.00" style="letter-spacing:0.100px" xml:space="preserve">0.6</text>
<text x="40.80" y="145.00" style="letter-spacing:0.100px" xml:space="preserve">0.8</text>
<text x="977.50" y="518.00" xml:space="preserve">0.0</text>
<text x="977.50" y="425.00" xml:space="preserve">0.4</text>
<text x="977.50" y="332.00" xml:space="preserve">0.8</text>
<text x="978.00" y="238.00" style="letter-spacing:-0.050px" xml:space="preserve">1.2</text>
<text x="978.00" y="145.00" style="letter-spacing:-0.050px" xml:space="preserve">1.6</text>
<text x="79.00" y="538.00" xml:space="preserve">0</text>
<text x="143.60" y="538.00" style="letter-spacing:0.200px" xml:space="preserve">0.05</text>
<text x="224.30" y="538.00" style="letter-spacing:-0.267px" xml:space="preserve">0.10</text>
<text x="304.00" y="538.00" style="letter-spacing:-0.167px" xml:space="preserve">0.15</text>
<text x="383.70" y="538.00" style="letter-spacing:-0.167px" xml:space="preserve">0.20</text>
<text x="462.80" y="538.00" style="letter-spacing:-0.067px" xml:space="preserve">0.25</text>
<text x="542.80" y="538.00" style="letter-spacing:0.133px" xml:space="preserve">0.30</text>
<text x="622.80" y="538.00" style="letter-spacing:0.033px" xml:space="preserve">0.35</text>
<text x="702.70" y="538.00" style="letter-spacing:-0.133px" xml:space="preserve">0.40</text>
<text x="781.60" y="538.00" style="letter-spacing:0.133px" xml:space="preserve">0.45</text>
<text x="880.40" y="537.60" style="letter-spacing:0.183px" xml:space="preserve">P2 [kW]</text>
<text x="885.80" y="132.00" style="letter-spacing:0.100px;font-size:21px" xml:space="preserve">eta</text>
<text x="885.80" y="168.90" fill="#6d97bc" style="letter-spacing:0.533px;font-size:21px" xml:space="preserve">cos phi</text>
<text x="885.50" y="225.90" fill="#034383" xml:space="preserve">I</text>
<text x="45.40" y="583.00" style="font-size:21px" xml:space="preserve">n</text>
<text x="25.30" y="605.90" style="letter-spacing:0.725px;font-size:21px" xml:space="preserve">[rpm]</text>
<text x="978.60" y="583.00" style="letter-spacing:-1.700px" xml:space="preserve">P1</text>
<text x="969.60" y="605.50" style="letter-spacing:0.533px" xml:space="preserve">[kW]</text>
<text x="22.00" y="995.00" style="letter-spacing:0.333px" xml:space="preserve">2000</text>
<text x="22.00" y="918.00" style="letter-spacing:0.333px" xml:space="preserve">2200</text>
<text x="22.00" y="841.00" style="letter-spacing:0.333px" xml:space="preserve">2400</text>
<text x="22.00" y="763.00" style="letter-spacing:0.333px" xml:space="preserve">2600</text>
<text x="22.00" y="686.00" style="letter-spacing:0.333px" xml:space="preserve">2800</text>
<text x="977.50" y="995.00" style="letter-spacing:0.100px" xml:space="preserve">0.0</text>
<text x="977.50" y="918.00" style="letter-spacing:0.100px" xml:space="preserve">0.2</text>
<text x="977.50" y="841.00" style="letter-spacing:0.100px" xml:space="preserve">0.4</text>
<text x="977.50" y="763.00" style="letter-spacing:0.100px" xml:space="preserve">0.6</text>
<text x="977.50" y="686.00" style="letter-spacing:0.100px" xml:space="preserve">0.8</text>
<text x="886.50" y="641.60" fill="#034383" style="font-size:21px" xml:space="preserve">n</text>
<text x="885.10" y="732.70" style="letter-spacing:-0.900px" xml:space="preserve">P1</text>
</svg></body></html>
